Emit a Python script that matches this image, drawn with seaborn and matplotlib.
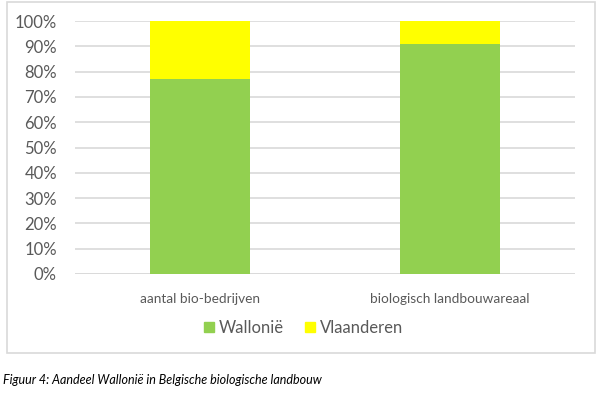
import matplotlib
matplotlib.use("Agg")
import matplotlib.pyplot as plt
import matplotlib.patches as mpatches
import pandas as pd
import seaborn as sns

categories = ["aantal bio-bedrijven", "biologisch landbouwareaal"]
wallonie = [77, 91]
vlaanderen = [23, 9]
y_ticks = [0, 10, 20, 30, 40, 50, 60, 70, 80, 90, 100]
caption = "Figuur 4: Aandeel Wallonië in Belgische biologische landbouw"

GREEN = "#92D050"
YELLOW = "#FFFF00"
GRID = "#D9D9D9"
TEXT = "#595959"

sns.set_theme(style="white")
plt.rcParams["font.family"] = ["Lato", "DejaVu Sans"]

df = pd.DataFrame({"categorie": categories, "Wallonië": wallonie, "Vlaanderen": vlaanderen})

fig = plt.figure(figsize=(6, 3.98), dpi=100)
ax = fig.add_axes([0.125, 0.3116, 0.833, 0.6354])

# stacked bars: green part first, yellow on top of it
sns.barplot(data=df, x="categorie", y="Wallonië", color=GREEN, width=0.4,
            saturation=1, linewidth=0, ax=ax, zorder=3)
sns.barplot(data=df, x="categorie", y="Vlaanderen", bottom=df["Wallonië"], color=YELLOW,
            width=0.4, saturation=1, linewidth=0, ax=ax, zorder=3)

ax.set_ylim(0, 100)
ax.set_xlim(-0.5, 1.5)
ax.set_yticks(y_ticks)
ax.set_yticklabels([f"{t}%" for t in y_ticks])
ax.yaxis.grid(True, color=GRID, linewidth=1.2, zorder=0)
ax.set_axisbelow(True)
sns.despine(ax=ax, left=True, top=True, right=True, bottom=True)
ax.axhline(0, color=GRID, linewidth=1.2, zorder=1)
ax.set_xlabel("")
ax.set_ylabel("")
ax.tick_params(axis="y", labelsize=12, colors=TEXT, length=0, pad=13)
ax.tick_params(axis="x", labelsize=9.8, colors=TEXT, length=0, pad=14)

handles = [mpatches.Patch(color=GREEN, label="Wallonië"),
           mpatches.Patch(color=YELLOW, label="Vlaanderen")]
fig.legend(handles=handles, loc="center", bbox_to_anchor=(0.506, 0.176), ncol=2,
           frameon=False, fontsize=12, labelcolor=TEXT, handlelength=0.6,
           handleheight=0.6, handletextpad=0.3, columnspacing=1.3)

# chart border
fig.add_artist(mpatches.Rectangle((7 / 600, 1 - 353 / 398), 588 / 600, 351 / 398,
                                  transform=fig.transFigure, fill=False,
                                  edgecolor=GRID, linewidth=1.2))

fig.text(0.005, 1 - 380 / 398, caption, fontsize=9, style="italic",
         color="black", va="center", ha="left")

fig.savefig("out.png", dpi=100, facecolor="white")
